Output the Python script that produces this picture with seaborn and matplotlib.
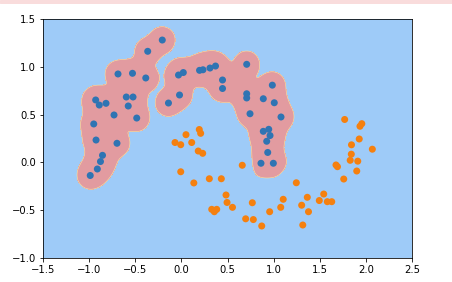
import numpy as np
import pandas as pd
import matplotlib
matplotlib.use("Agg")
import matplotlib.pyplot as plt
import seaborn as sns
from matplotlib.patches import Rectangle

# class 0 (blue) points
blue_x = [-0.207, -0.365, -0.687, -0.530, -0.386, -0.031, 0.021, 0.197, 0.234, 0.310,
          0.370, 0.708, 0.446, 0.446, -0.020, -0.140, -0.929, -0.890, -0.817, -0.597,
          -0.524, -0.576, -0.730, -0.484, -0.950, -0.925, -0.698, -0.855, -0.877, -0.911,
          -0.988, 0.986, 0.708, 0.708, 0.888, 1.007, 0.744, 1.080, 0.888, 0.947,
          0.961, 0.925, 0.936, 0.863, 0.997]
blue_y = [1.280, 1.162, 0.925, 0.932, 0.883, 0.914, 0.940, 0.963, 0.969, 0.987,
          1.008, 1.026, 0.862, 0.773, 0.705, 0.621, 0.653, 0.600, 0.618, 0.684,
          0.684, 0.590, 0.496, 0.464, 0.402, 0.234, 0.200, 0.074, 0.009, -0.069,
          -0.137, 0.808, 0.718, 0.674, 0.666, 0.624, 0.509, 0.475, 0.325, 0.346,
          0.281, 0.221, 0.104, -0.009, -0.009]

# class 1 (orange) points
orange_x = [-0.069, -0.007, 0.050, 0.112, 0.194, 0.209, 0.183, 0.231, -0.007, 0.135,
            0.303, 0.433, 0.660, 0.484, 0.495, 0.554, 0.329, 0.383, 0.357, 0.769,
            0.697, 0.780, 0.871, 0.957, 1.077, 1.104, 1.246, 1.304, 1.365, 1.378,
            1.316, 1.495, 1.543, 1.582, 1.630, 1.760, 1.676, 1.692, 1.830, 1.912,
            1.901, 1.842, 1.844, 1.928, 2.070, 1.956, 1.936, 1.770]
orange_y = [0.208, 0.185, 0.290, 0.208, 0.344, 0.304, 0.119, 0.095, -0.098, -0.215,
            -0.171, -0.171, -0.030, -0.341, -0.419, -0.470, -0.491, -0.491, -0.516, -0.422,
            -0.590, -0.598, -0.665, -0.516, -0.470, -0.386, -0.213, -0.448, -0.365, -0.516,
            -0.655, -0.399, -0.331, -0.411, -0.411, -0.174, -0.027, -0.045, 0.022, 0.013,
            -0.090, 0.086, 0.184, 0.245, 0.138, 0.405, 0.378, 0.449]

x_ticks = [-1.5, -1.0, -0.5, 0.0, 0.5, 1.0, 1.5, 2.0, 2.5]
y_ticks = [-1.0, -0.5, 0.0, 0.5, 1.0, 1.5]

df = pd.DataFrame({
    "x": blue_x + orange_x,
    "y": blue_y + orange_y,
    "label": [0] * len(blue_x) + [1] * len(orange_x),
})

W, H = 452, 282
fig = plt.figure(figsize=(W / 72, H / 72), dpi=72)
ax = fig.add_axes([43 / W, (H - 258) / H, (412 - 43) / W, (258 - 19) / H])

# decision surface (RBF-like kernel score)
gx = np.linspace(-1.5, 2.5, 801)
gy = np.linspace(-1.0, 1.5, 501)
XX, YY = np.meshgrid(gx, gy)
sig = 0.08
def ksum(px, py):
    out = np.zeros_like(XX)
    for a, b in zip(px, py):
        out += np.exp(-((XX - a) ** 2 + (YY - b) ** 2) / (2 * sig ** 2))
    return out
Z = ksum(blue_x, blue_y) - ksum(orange_x, orange_y)
t = 0.22
ax.contourf(XX, YY, Z, levels=[Z.min() - 1, t, Z.max() + 1],
            colors=["#9ecbf8", "#e29ba0"])
ax.contour(XX, YY, Z, levels=[t], colors=["#f1e6a6"], linewidths=0.6)

sns.scatterplot(data=df, x="x", y="y", hue="label",
                palette=["#2f74b3", "#f5800f"], s=49, linewidth=0,
                legend=False, ax=ax, zorder=3)

ax.set_xlim(-1.5, 2.5)
ax.set_ylim(-1.0, 1.5)
ax.set_xticks(x_ticks)
ax.set_yticks(y_ticks)
ax.set_xlabel("")
ax.set_ylabel("")
ax.tick_params(labelsize=10)

fig.patches.append(Rectangle((0, 1 - 3 / H), 1, 3 / H, transform=fig.transFigure,
                             color="#f9dcdc", zorder=0))

fig.savefig("out.png", dpi=72)
